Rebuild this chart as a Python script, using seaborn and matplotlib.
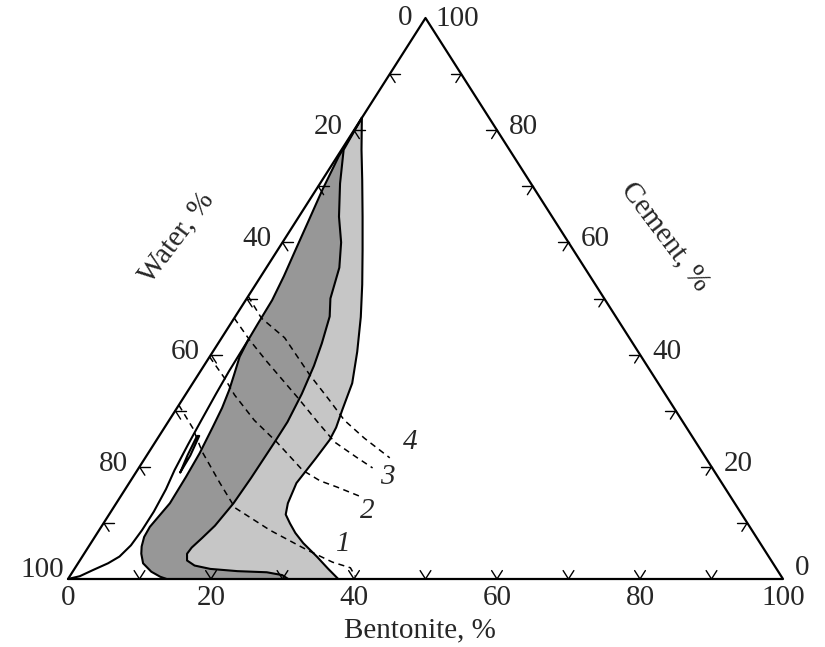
import matplotlib
matplotlib.use("Agg")
import matplotlib.pyplot as plt
import numpy as np
import pandas as pd
import seaborn as sns

# %% DATA  (bentonite %, cement %) -- water = 100 - bentonite - cement
# outer (right) boundary of the light zone, top -> bottom
right_b = [0, 2.8, 5.6, 8.9, 11.9, 14.9, 17.6, 20.2, 22.3, 23.3, 24.0, 24.2, 23.9,
           23.4, 23.7, 24.0, 24.7, 26.1, 27.7, 29.7, 32.8, 35.5, 37.8]
right_c = [82.2, 76.5, 71.1, 64.6, 58.6, 52.5, 46.7, 40.5, 34.9, 30.1, 27.0, 24.8, 21.5,
           17.1, 15.3, 13.5, 11.5, 9.9, 8.2, 6.4, 4.0, 1.8, 0]

# boundary between dark and light zone, top -> bottom
mid_b = [0, 0.3, 2.8, 5.6, 8.2, 10.2, 11.7, 13.2, 14.5, 15.4, 16.2, 16.7, 16.7, 16.6,
         16.4, 15.8, 15.1, 14.5, 14.4, 15.0, 16.5, 19.0, 23.0, 27.2, 29.6, 30.8]
mid_c = [82.2, 76.5, 70.5, 64.6, 60.0, 55.5, 50.0, 46.8, 42.0, 38.0, 33.0, 28.0, 24.2, 18.0,
         13.5, 9.5, 7.3, 5.6, 4.5, 3.3, 2.4, 1.8, 1.4, 1.2, 0.7, 0]

# left boundary of the dark zone, top -> bottom
dark_b = [0, 0.2, 0.9, 1.7, 2.5, 3.2, 3.7, 3.8, 3.9, 4.2, 5.0, 5.7, 6.3, 6.7, 7.2, 7.4,
          7.5, 6.8, 6.9, 7.4, 8.0, 9.1, 11.0, 12.7, 13.8]
dark_c = [82.2, 75.3, 69.3, 64.0, 58.6, 54.0, 49.7, 45.5, 42.6, 39.6, 36.5, 33.7, 30.5, 27.1,
          22.4, 18.2, 13.5, 9.3, 7.5, 5.8, 4.5, 2.8, 1.3, 0.4, 0]

# thin white lens along the water side
lens_b = [0, 1.4, 2.7, 4.2, 5.2, 5.8, 6.0, 6.0, 5.7, 5.2, 4.8, 4.5, 4.2, 4.0, 3.9]
lens_c = [0, 0.5, 1.6, 2.8, 4.0, 6.0, 8.7, 12.0, 16.0, 19.4, 24.0, 28.3, 33.0, 37.0, 42.6]

sliver_b = [6.2, 6.1, 5.6, 5.3, 5.7, 6.2]
sliver_c = [19.0, 22.0, 25.5, 25.5, 22.0, 19.0]

# dashed curves 1-4
curves = {
    "1": ([0, 4.0, 7.5, 12.7, 17.0, 23.9, 30.8, 35.5, 38.5, 39.9],
          [31.0, 26.9, 22.6, 17.1, 12.7, 8.7, 5.2, 3.0, 2.0, 0.5]),
    "2": ([0, 4.0, 6.9, 11.9, 17.0, 23.1, 26.5, 29.4, 33.8],
          [39.6, 35.8, 32.8, 28.3, 24.4, 19.4, 17.5, 16.4, 14.6]),
    "3": ([0, 4.1, 8.5, 16.0, 20.9, 25.1, 29.5, 32.7],
          [46.5, 42.6, 38.7, 32.3, 28.0, 24.4, 21.7, 19.8]),
    "4": ([0, 3.8, 8.8, 15.6, 20.6, 24.5, 28.9, 34.2],
          [50.4, 46.5, 43.0, 36.4, 31.9, 28.3, 25.1, 21.6]),
}
curve_label_b = [35.4, 35.8, 35.5, 35.6]
curve_label_c = [6.2, 12.1, 18.2, 24.4]

tick_values = [10, 20, 30, 40, 50, 60, 70, 80, 90]
label_values = [0, 20, 40, 60, 80, 100]


def to_xy(b, c):
    b = np.asarray(b, float)
    c = np.asarray(c, float)
    return b + c / 2, c


# %% VISUALISE
sns.set_theme(style="white")
plt.rcParams["font.family"] = ["Liberation Serif", "DejaVu Serif"]

fig = plt.figure(figsize=(8.25, 6.47), dpi=100)
ax = fig.add_axes([68 / 825, 68 / 647, 715 / 825, 561 / 647])
ax.set_xlim(0, 100)
ax.set_ylim(0, 100)
ax.axis("off")

# shaded zones
dx, dy = to_xy(dark_b + mid_b[::-1], dark_c + mid_c[::-1])
ax.fill(dx, dy, color="#979797", lw=0, zorder=1)
lx, ly = to_xy(mid_b + right_b[::-1], mid_c + right_c[::-1])
ax.fill(lx, ly, color="#c6c6c6", lw=0, zorder=1)

# outlines
for bb, cc in [(right_b, right_c), (mid_b, mid_c), (dark_b, dark_c),
               (lens_b, lens_c), (sliver_b, sliver_c)]:
    x, y = to_xy(bb, cc)
    sns.lineplot(x=x, y=y, sort=False, estimator=None, color="black",
                 lw=1.5, ax=ax, zorder=3)

# dashed curves
for name, (bb, cc) in curves.items():
    x, y = to_xy(bb, cc)
    sns.lineplot(x=x, y=y, sort=False, estimator=None, color="black",
                 lw=1.1, linestyle=(0, (4, 3)), ax=ax, zorder=4)
for name, b, c in zip(curves.keys(), curve_label_b, curve_label_c):
    x, y = to_xy(b, c)
    ax.text(x, y, name, fontsize=21, style="italic", ha="center", va="center")

# triangle
tx, ty = to_xy([0, 100, 0, 0], [0, 0, 100, 0])
ax.plot(tx, ty, color="black", lw=1.6, zorder=5, clip_on=False)

# small chevron ticks along each edge
L = 1.5
for v in tick_values:
    # bottom (bentonite)
    for b2, c2 in [(v, L), (v - L, L)]:
        x, y = to_xy([v, b2], [0, c2])
        ax.plot(x, y, color="black", lw=1.0, zorder=5)
    # left (water)
    c0 = 100 - v
    for b2, c2 in [(L, c0), (L, c0 - L)]:
        x, y = to_xy([0, b2], [c0, c2])
        ax.plot(x, y, color="black", lw=1.0, zorder=5)
    # right (cement)
    b0 = 100 - v
    for b2, c2 in [(b0 - L, v), (b0, v - L)]:
        x, y = to_xy([b0, b2], [v, c2])
        ax.plot(x, y, color="black", lw=1.0, zorder=5)

# tick labels
fs = 21
for v in label_values:
    x, y = to_xy(v, 0)
    ax.annotate(str(v), (x, y), xytext=(0, -19), textcoords="offset pixels",
                ha="center", va="center", fontsize=fs, annotation_clip=False)
    # water on left edge
    x, y = to_xy(0, 100 - v)
    off = (-11, 3)
    if v == 100:
        off = (-4, 9)
    elif v == 0:
        off = (-13, 0)
    ax.annotate(str(v), (x, y), xytext=off, textcoords="offset pixels",
                ha="right", va="center", fontsize=fs, annotation_clip=False)
    # cement on right edge
    x, y = to_xy(100 - v, v)
    off = (12, 3)
    if v == 0:
        off = (12, 11)
    elif v == 100:
        off = (10, -1)
    ax.annotate(str(v), (x, y), xytext=off, textcoords="offset pixels",
                ha="left", va="center", fontsize=fs, annotation_clip=False)

# axis titles
fig.text(420 / 825, 1 - 630 / 647, "Bentonite, %", fontsize=fs,
         ha="center", va="center")
fig.text(177 / 825, 1 - 238 / 647, "Water, %", fontsize=fs,
         rotation=53, ha="center", va="center", rotation_mode="anchor")
fig.text(665 / 825, 1 - 237 / 647, "Cement, %", fontsize=fs,
         rotation=-53, ha="center", va="center", rotation_mode="anchor")

fig.savefig("out.png", dpi=100)
